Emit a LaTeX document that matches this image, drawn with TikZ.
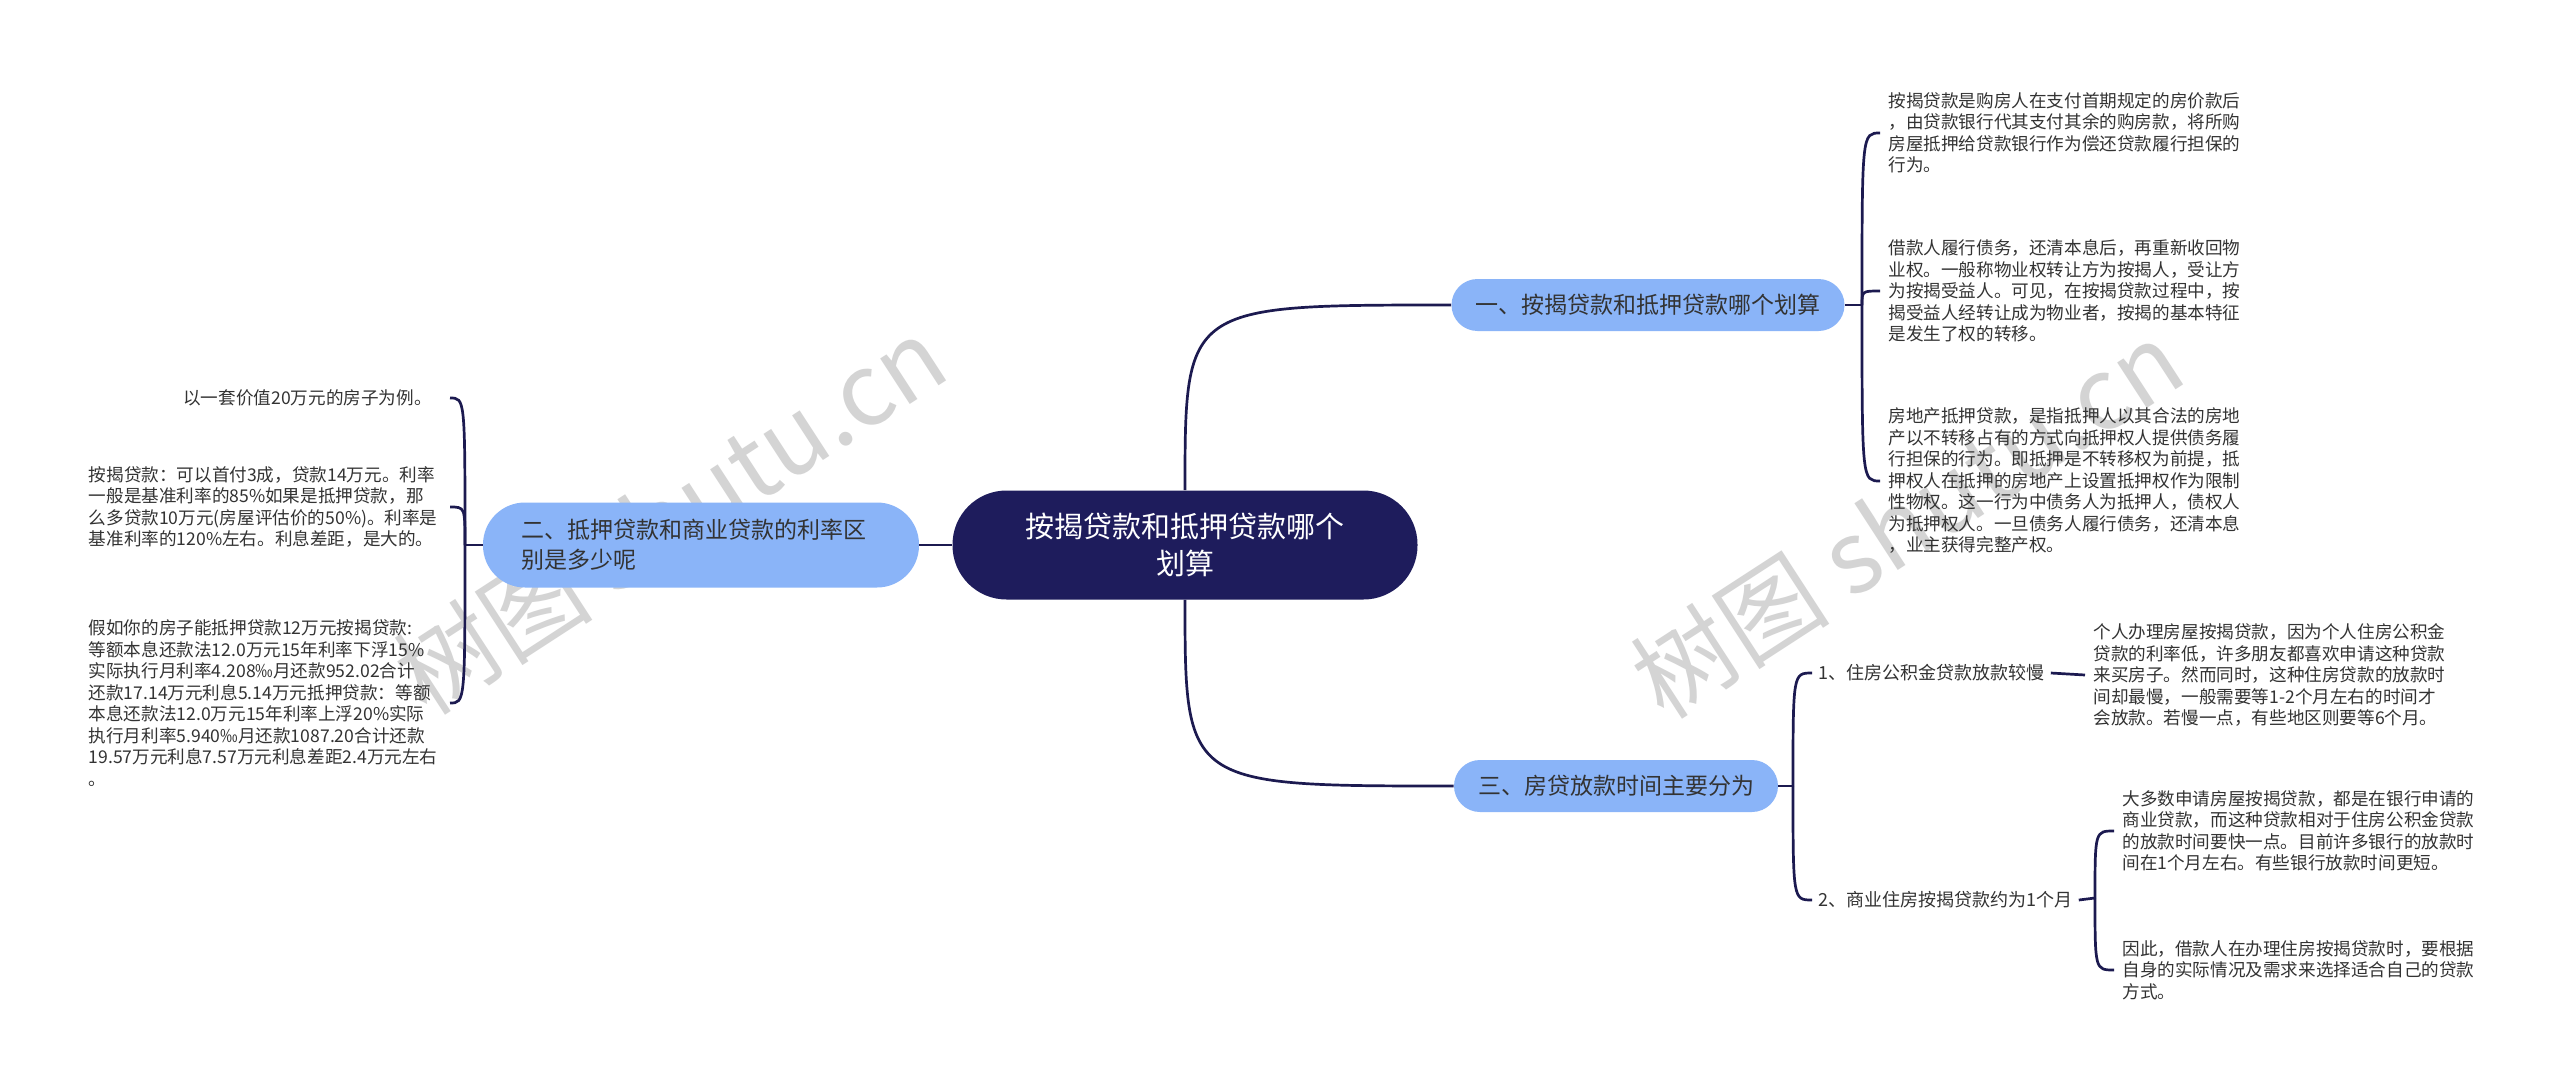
\documentclass[tikz,border=0pt]{standalone}
\usepackage{fontspec}
\newfontfamily\cjk{Noto Sans CJK SC}
\definecolor{rootnavy}{HTML}{1E1C5C}
\definecolor{branchblue}{HTML}{8AB4F8}
\definecolor{linenavy}{HTML}{1C1A50}
\definecolor{txtgray}{HTML}{333333}
\tikzset{
  rootbox/.style={fill=rootnavy, text=white, rounded corners=27pt, minimum width=232.5pt, minimum height=54.5pt, align=center, font=\cjk\fontsize{14.5}{18.5}\selectfont},
  branch/.style={fill=branchblue, text=txtgray, rounded corners=13pt, minimum height=26pt, inner xsep=12pt, font=\cjk\fontsize{11.5}{15}\selectfont},
  leaf/.style={text=txtgray, align=left, inner xsep=4pt, inner ysep=2pt, font=\cjk\fontsize{8.8}{10.75}\selectfont},
  subitem/.style={text=txtgray, inner xsep=3pt, font=\cjk\fontsize{9}{11}\selectfont},
  link/.style={draw=linenavy, line width=1.35pt},
  watermark/.style={text=black!17, rotate=33, font=\cjk\fontsize{50}{50}\selectfont},
}
\begin{document}
\begin{tikzpicture}[x=0.5pt,y=-0.5pt]
\fill[white] (0,0) rectangle (2560,1086);
\useasboundingbox (0,0) rectangle (2560,1086);
\node[watermark] (wm1) at (670,515) {树图 shutu.cn};
\node[watermark] (wm2) at (1907,519) {树图 shutu.cn};

\node[rootbox] (root) at (1185,545) {按揭贷款和抵押贷款哪个\\划算};
\node[branch] (b1) at (1648,305) {一、按揭贷款和抵押贷款哪个划算};
\node[branch, align=left, text width=180pt, inner xsep=19pt, minimum height=42.5pt, rounded corners=21pt] (b2) at (701,545) {二、抵押贷款和商业贷款的利率区\\别是多少呢};
\node[branch] (b3) at (1616,786) {三、房贷放款时间主要分为};

\node[leaf, anchor=west] (r1) at (1880,133) {按揭贷款是购房人在支付首期规定的房价款后\\，由贷款银行代其支付其余的购房款，将所购\\房屋抵押给贷款银行作为偿还贷款履行担保的\\行为。};
\node[leaf, anchor=west] (r2) at (1880,291) {借款人履行债务，还清本息后，再重新收回物\\业权。一般称物业权转让方为按揭人，受让方\\为按揭受益人。可见，在按揭贷款过程中，按\\揭受益人经转让成为物业者，按揭的基本特征\\是发生了权的转移。};
\node[leaf, anchor=west] (r3) at (1880,481) {房地产抵押贷款，是指抵押人以其合法的房地\\产以不转移占有的方式向抵押权人提供债务履\\行担保的行为。即抵押是不转移权为前提，抵\\押权人在抵押的房地产上设置抵押权作为限制\\性物权。这一行为中债务人为抵押人，债权人\\为抵押权人。一旦债务人履行债务，还清本息\\，业主获得完整产权。};

\node[leaf, anchor=east, inner xsep=9pt] (l1) at (450,398) {以一套价值20万元的房子为例。};
\node[leaf, anchor=east, inner xsep=6pt] (l2) at (450,507) {按揭贷款：可以首付3成，贷款14万元。利率\\一般是基准利率的85\%如果是抵押贷款，那\\么多贷款10万元(房屋评估价的50\%)。利率是\\基准利率的120\%左右。利息差距，是大的。};
\node[leaf, anchor=east, inner xsep=6pt] (l3) at (450,703) {假如你的房子能抵押贷款12万元按揭贷款:\\等额本息还款法12.0万元15年利率下浮15\%\\实际执行月利率4.208‰月还款952.02合计\\还款17.14万元利息5.14万元抵押贷款：等额\\本息还款法12.0万元15年利率上浮20\%实际\\执行月利率5.940‰月还款1087.20合计还款\\19.57万元利息7.57万元利息差距2.4万元左右\\。};

\node[subitem, anchor=west] (s1) at (1812,673) {1、住房公积金贷款放款较慢};
\node[subitem, anchor=west] (s2) at (1812,900) {2、商业住房按揭贷款约为1个月};
\node[leaf, anchor=west] (c1) at (2085,675) {个人办理房屋按揭贷款，因为个人住房公积金\\贷款的利率低，许多朋友都喜欢申请这种贷款\\来买房子。然而同时，这种住房贷款的放款时\\间却最慢，一般需要等1-2个月左右的时间才\\会放款。若慢一点，有些地区则要等6个月。};
\node[leaf, anchor=west] (c2) at (2114,831) {大多数申请房屋按揭贷款，都是在银行申请的\\商业贷款，而这种贷款相对于住房公积金贷款\\的放款时间要快一点。目前许多银行的放款时\\间在1个月左右。有些银行放款时间更短。};
\node[leaf, anchor=west] (c3) at (2114,970) {因此，借款人在办理住房按揭贷款时，要根据\\自身的实际情况及需求来选择适合自己的贷款\\方式。};

\coordinate (j1) at (1862,305);
\coordinate (j2) at (465,545);
\coordinate (j3) at (1793,786);
\coordinate (j4) at (2095,898);

\draw[link] (root.north) .. controls (root.north |- b1.west) .. (b1.west);
\draw[link] (root.south) .. controls (root.south |- b3.west) .. (b3.west);
\draw[link] (root.west) -- (b2.east);
\draw[link] (b1.east) -- (j1);
\foreach \n in {r1,r2,r3}
  \draw[link] (j1) .. controls (j1 |- \n.west) .. (\n.west);
\draw[link] (b2.west) -- (j2);
\foreach \n in {l1,l2,l3}
  \draw[link] (j2) .. controls (j2 |- \n.east) .. (\n.east);
\draw[link] (b3.east) -- (j3);
\foreach \n in {s1,s2}
  \draw[link] (j3) .. controls (j3 |- \n.west) .. (\n.west);
\draw[link] (s1.east) -- (c1.west);
\draw[link] (s2.east) -- (j4);
\foreach \n in {c2,c3}
  \draw[link] (j4) .. controls (j4 |- \n.west) .. (\n.west);
\end{tikzpicture}
\end{document}
